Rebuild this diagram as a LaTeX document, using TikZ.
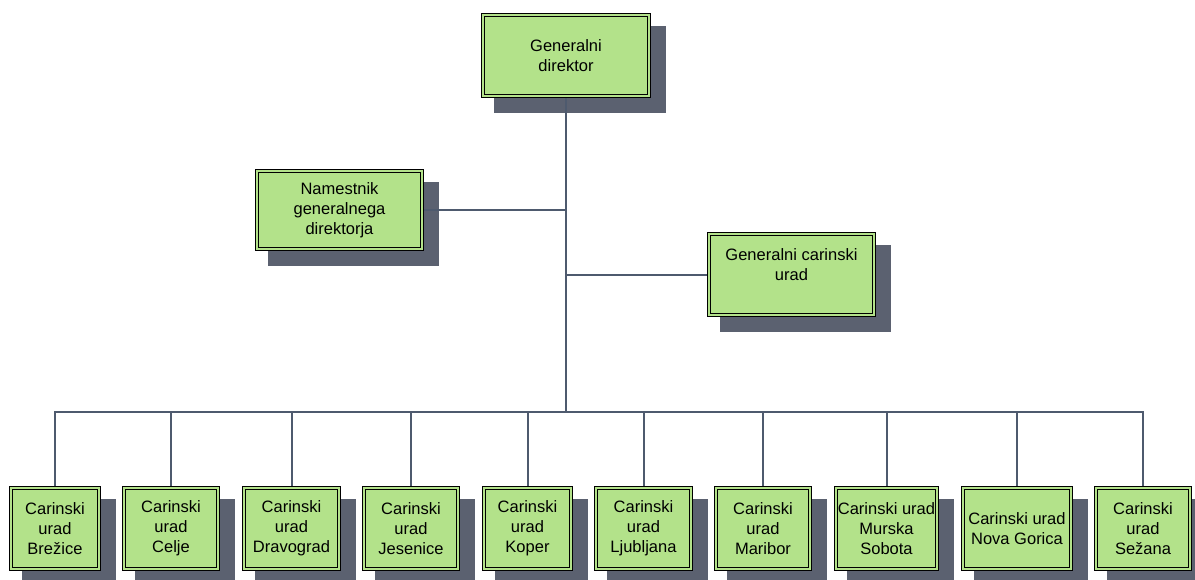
\documentclass[tikz,border=0pt]{standalone}
\usepackage{fontspec}
\setmainfont{Liberation Sans}
\usetikzlibrary{backgrounds,calc}
\definecolor{boxgreen}{HTML}{B3E28A}
\definecolor{shadowgray}{HTML}{5B6170}
\definecolor{linkblue}{HTML}{4E5A6E}
\begin{document}
\begin{tikzpicture}[x=1pt,y=-1pt,
  orgbox/.style={draw=black,line width=1.1pt,double=boxgreen,double distance=1.8pt,
    fill=boxgreen,inner sep=0pt,align=center,minimum height=81pt,
    font=\fontsize{16.5}{20}\selectfont},
  link/.style={draw=linkblue,line width=2pt},
  shade/.style={fill=shadowgray}]
\useasboundingbox (0,0) rectangle (1195,579);

% management
\node[orgbox,minimum width=166pt] (gd) at (566,55.5) {Generalni\\direktor};
\node[orgbox,minimum width=165pt,minimum height=78pt] (nam) at (339.5,210) {Namestnik\\generalnega\\direktorja};
\node[orgbox,minimum width=165pt] (gcu) at (791.5,274.5) {Generalni carinski\\urad\\\mbox{}};

% customs offices
\node[orgbox,minimum width=88pt]  (bre) at (55,528.5)   {Carinski\\urad\\Brežice};
\node[orgbox,minimum width=94pt]  (cel) at (171,528.5)  {Carinski\\urad\\Celje};
\node[orgbox,minimum width=95pt]  (dra) at (291.5,528.5){Carinski\\urad\\Dravograd};
\node[orgbox,minimum width=94pt]  (jes) at (411,528.5)  {Carinski\\urad\\Jesenice};
\node[orgbox,minimum width=87pt]  (kop) at (527.5,528.5){Carinski\\urad\\Koper};
\node[orgbox,minimum width=95pt]  (lju) at (643.5,528.5){Carinski\\urad\\Ljubljana};
\node[orgbox,minimum width=94pt]  (mar) at (763,528.5)  {Carinski\\urad\\Maribor};
\node[orgbox,minimum width=101pt] (mur) at (886.5,528.5){Carinski urad\\Murska\\Sobota};
\node[orgbox,minimum width=108pt] (nov) at (1017,528.5) {Carinski urad\\Nova Gorica};
\node[orgbox,minimum width=94pt]  (sez) at (1143,528.5) {Carinski\\urad\\Sežana};

\coordinate (bus) at (566,412);

\begin{scope}[on background layer]
  % drop shadows
  \foreach \n in {gd,nam,gcu,bre,cel,dra,jes,kop,lju,mar,mur,nov,sez}
    \fill[shade] ($(\n.north west)+(12,12)$) rectangle ($(\n.south east)+(16,16)$);
  % connectors
  \draw[link] (gd.south) -- (bus);
  \draw[link] (nam.east) -- (nam.east -| gd);
  \draw[link] (gcu.west) -- (gcu.west -| gd);
  \foreach \n in {bre,cel,dra,jes,kop,lju,mar,mur,nov,sez}
    \draw[link] (\n.north) |- (bus);
\end{scope}
\end{tikzpicture}
\end{document}
